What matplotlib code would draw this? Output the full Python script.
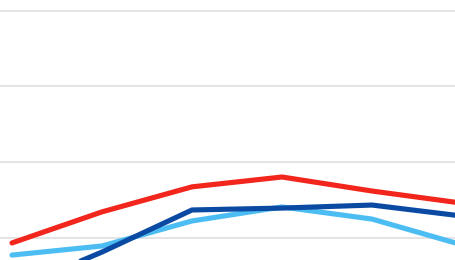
import matplotlib
matplotlib.use("Agg")
import matplotlib.pyplot as plt

# category positions (6 points, last one just past the right edge)
periods = [0, 1, 2, 3, 4, 5]

# series values
red_series = [18.7, 26.9, 33.5, 36.1, 32.4, 29.2]
dark_blue_series = [6.3, 16.3, 27.4, 27.9, 28.7, 25.8]
light_blue_series = [15.5, 17.9, 24.5, 28.2, 25.0, 18.2]

grid_values = [20, 40, 60, 80]

fig = plt.figure(figsize=(4.56, 2.6), dpi=100)
ax = fig.add_axes([0, 0, 1, 1])

# gridlines
for g in grid_values:
    ax.axhline(g, color="#dcdcdc", linewidth=1.1, zorder=0)

lw = 3.7
ax.plot(periods, light_blue_series, color="#4cbdf2", linewidth=lw,
        solid_capstyle="round", solid_joinstyle="round", zorder=2)
ax.plot(periods, dark_blue_series, color="#0b4aa2", linewidth=lw,
        solid_capstyle="round", solid_joinstyle="round", zorder=3)
ax.plot(periods, red_series, color="#f2261c", linewidth=lw,
        solid_capstyle="round", solid_joinstyle="round", zorder=4)

ax.set_xlim(-12 / 90, 444 / 90)
ax.set_ylim(14.2, 82.8)
ax.axis("off")

fig.savefig("out.png", dpi=100, facecolor="white")
